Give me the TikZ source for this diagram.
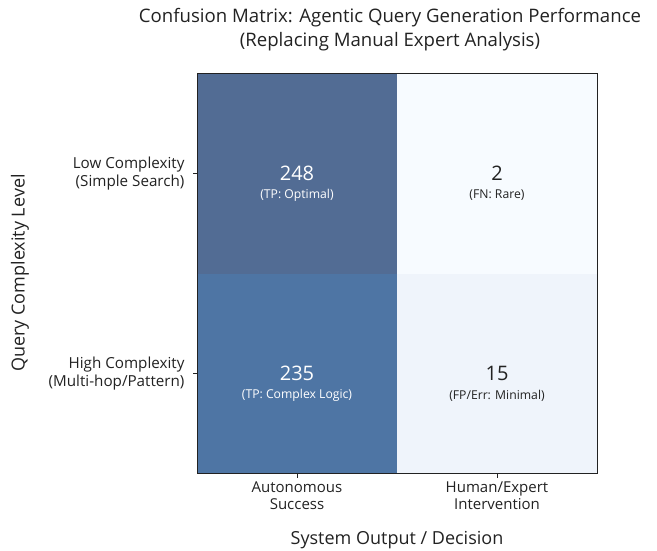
\documentclass[tikz,border=0pt]{standalone}
\usepackage{fontspec}
\setmainfont{Open Sans}
\usetikzlibrary{positioning}

\definecolor{cellLowAuto}{HTML}{526C94}
\definecolor{cellLowHum}{HTML}{F7FBFF}
\definecolor{cellHighAuto}{HTML}{4E75A4}
\definecolor{cellHighHum}{HTML}{EFF4FB}
\definecolor{inkDark}{HTML}{222222}

\begin{document}
\begin{tikzpicture}[x=1pt, y=-1pt, text=inkDark,
    cell/.style={minimum size=200pt, inner sep=0pt, outer sep=0pt},
    count/.style={font=\fontsize{20}{23}\selectfont},
    note/.style={font=\fontsize{12.2}{14}\selectfont},
    ticklab/.style={align=right, font=\fontsize{15.2}{18}\selectfont},
    collab/.style={align=center, font=\fontsize{15}{17}\selectfont},
    axislab/.style={font=\fontsize{18}{21}\selectfont}]
    \useasboundingbox (0,0) rectangle (657,550);

    % title
    \node[align=center, font=\fontsize{18.6}{24}\selectfont] (title) at (390,30)
    {Confusion Matrix: Agentic Query Generation Performance\\(Replacing Manual Expert Analysis)};

    % matrix cells
    \node[cell, fill=cellLowAuto] (lowAuto) at (297,173.5) {};
    \node[cell, fill=cellLowHum, right=0pt of lowAuto] (lowHum) {};
    \node[cell, fill=cellHighAuto, below=0pt of lowAuto] (highAuto) {};
    \node[cell, fill=cellHighHum, right=0pt of highAuto] (highHum) {};
    \draw[inkDark, line width=0.8pt] (lowAuto.north west) rectangle (highHum.south east);

    % counts and notes
    \node[count, text=white] (nLowAuto) at (lowAuto) {248};
    \node[note, text=white, yshift=-22pt] at (lowAuto) {(TP: Optimal)};
    \node[count] (nLowHum) at (lowHum) {2};
    \node[note, yshift=-22pt] at (lowHum) {(FN: Rare)};
    \node[count, text=white] (nHighAuto) at (highAuto) {235};
    \node[note, text=white, yshift=-22pt] at (highAuto) {(TP: Complex Logic)};
    \node[count] (nHighHum) at (highHum) {15};
    \node[note, yshift=-22pt] at (highHum) {(FP/Err: Minimal)};

    % ticks
    \coordinate (tLow) at ([xshift=-4pt]lowAuto.west);
    \coordinate (tHigh) at ([xshift=-4pt]highAuto.west);
    \coordinate (tAuto) at ([yshift=-4pt]highAuto.south);
    \coordinate (tHum) at ([yshift=-4pt]highHum.south);
    \draw[inkDark, line width=0.6pt] (lowAuto.west) -- (tLow);
    \draw[inkDark, line width=0.6pt] (highAuto.west) -- (tHigh);
    \draw[inkDark, line width=0.6pt] (highAuto.south) -- (tAuto);
    \draw[inkDark, line width=0.6pt] (highHum.south) -- (tHum);

    % tick labels
    \node[ticklab, left=5pt of tLow] (rowLow) {Low Complexity\\(Simple Search)};
    \node[ticklab, left=5pt of tHigh] (rowHigh) {High Complexity\\(Multi-hop/Pattern)};
    \node[collab, below=1pt of tAuto] (colAuto) {Autonomous\\Success};
    \node[collab, below=1pt of tHum] (colHum) {Human/Expert\\Intervention};

    % axis labels
    \node[axislab] (xlab) at (397,540) {System Output / Decision};
    \node[axislab, rotate=90] (ylab) at (20,273) {Query Complexity Level};
\end{tikzpicture}
\end{document}
